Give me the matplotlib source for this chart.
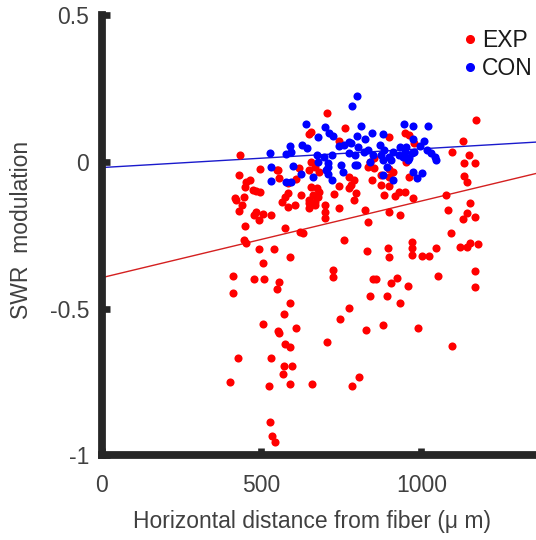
import matplotlib
matplotlib.use("Agg")
import matplotlib.pyplot as plt
from matplotlib.lines import Line2D
import numpy as np

plt.rcParams['font.family'] = ['Liberation Sans', 'DejaVu Sans']
plt.rcParams['axes.unicode_minus'] = False

# EXP group (red)
exp_x = [706, 1172, 762, 656, 647, 950, 962, 741, 978, 1131, 897, 434, 1097, 1150, 853, 838,
         1134, 1166, 656, 666, 494, 553, 647, 616, 834, 853, 900, 912, 431, 463, 556, 609,
         772, 788, 844, 875, 897, 962, 1134, 1141, 447, 475, 494, 584, 656, 672, 741, 772,
         897, 947, 1078, 416, 444, 453, 584, 572, 622, 662, 678, 728, 794, 788, 884, 916,
         975, 931, 438, 563, 584, 647, 647, 666, 697, 697, 741, 1153, 431, 484, 506, 531,
         491, 697, 825, 900, 934, 1084, 1141, 1131, 1166, 834, 450, 572, 619, 631, 1091, 444,
         453, 759, 969, 969, 969, 1153, 491, 538, 831, 894, 897, 1003, 1025, 1047, 1119, 1141,
         1178, 588, 506, 722, 725, 412, 478, 509, 850, 859, 922, 906, 1053, 1166, 556, 547,
         959, 1166, 412, 838, 891, 588, 934, 569, 775, 744, 506, 553, 556, 609, 828, 881,
         988, 706, 575, 588, 1097, 428, 531, 569, 594, 566, 806, 403, 525, 588, 659, 784,
         528, 534, 541, 547, 484, 419, 647, 606, 478, 681, 781, 875, 681, 666, 953]
exp_y = [0.167, 0.143, 0.116, 0.102, 0.095, 0.099, 0.092, 0.071, 0.065, 0.071, 0.085, 0.024,
         0.034, 0.024, 0.014, 0.0, -0.003, -0.003, 0.0, -0.017, -0.024, -0.027, -0.027, -0.020,
         -0.017, -0.020, -0.024, -0.034, -0.044, -0.061, -0.054, -0.058, -0.051, -0.061, -0.061,
         -0.044, -0.051, -0.051, -0.048, -0.068, -0.085, -0.095, -0.102, -0.071, -0.085, -0.088,
         -0.082, -0.088, -0.082, -0.102, -0.112, -0.122, -0.119, -0.068, -0.105, -0.119, -0.112,
         -0.112, -0.119, -0.109, -0.105, -0.129, -0.112, -0.116, -0.122, -0.102, -0.146, -0.136,
         -0.153, -0.139, -0.156, -0.146, -0.146, -0.170, -0.156, -0.139, -0.167, -0.170, -0.177,
         -0.180, -0.197, -0.190, -0.163, -0.170, -0.180, -0.163, -0.173, -0.194, -0.187, -0.204,
         -0.218, -0.224, -0.238, -0.241, -0.241, -0.265, -0.276, -0.265, -0.272, -0.293, -0.316,
         -0.276, -0.296, -0.296, -0.303, -0.293, -0.323, -0.320, -0.320, -0.293, -0.289, -0.289,
         -0.279, -0.323, -0.344, -0.367, -0.391, -0.388, -0.398, -0.398, -0.398, -0.401, -0.395,
         -0.412, -0.388, -0.371, -0.408, -0.432, -0.422, -0.425, -0.446, -0.456, -0.456, -0.480,
         -0.480, -0.520, -0.497, -0.537, -0.554, -0.578, -0.585, -0.565, -0.575, -0.558, -0.568,
         -0.616, -0.622, -0.633, -0.629, -0.670, -0.670, -0.697, -0.697, -0.724, -0.735, -0.752,
         -0.765, -0.759, -0.759, -0.765, -0.888, -0.935, -0.956, -0.027, -0.099, -0.129, -0.129,
         -0.146, -0.180, -0.034, -0.078, -0.078, -0.102, -0.136, 0.0]

# CON group (blue)
con_x = [797, 784, 638, 697, 812, 944, 972, 1019, 678, 712, 722, 797, 844, 881, 822, 972,
         1009, 588, 628, 641, 772, 741, 759, 781, 803, 834, 869, 884, 912, 934, 994, 953,
         1016, 1031, 528, 578, 591, 672, 694, 719, 772, 791, 819, 850, 875, 900, 931, 947,
         969, 1041, 1047, 962, 941, 978, 678, 709, 750, 791, 838, 881, 906, 959, 531, 597,
         709, 797, 891, 703, 756, 709, 625, 972, 1003, 662, 719, 881, 912, 987, 531, 578, 591]
con_y = [0.224, 0.190, 0.129, 0.119, 0.122, 0.129, 0.122, 0.122, 0.085, 0.099, 0.088, 0.088,
         0.099, 0.095, 0.078, 0.078, 0.071, 0.054, 0.058, 0.048, 0.068, 0.054, 0.058, 0.065,
         0.051, 0.041, 0.058, 0.041, 0.034, 0.051, 0.054, 0.051, 0.041, 0.031, 0.031, 0.027,
         0.034, 0.024, 0.017, 0.024, 0.031, 0.024, 0.034, 0.024, 0.024, 0.017, 0.024, 0.034,
         0.031, 0.017, 0.007, 0.014, 0.017, 0.034, 0.0, -0.003, -0.010, -0.010, 0.0, 0.007,
         0.007, 0.007, -0.017, -0.014, -0.017, -0.010, -0.017, -0.027, -0.034, -0.041, -0.041,
         -0.034, -0.037, -0.051, -0.061, -0.044, -0.061, -0.054, -0.065, -0.068, -0.068]

# linear fits (intercept, slope)
exp_fit = [-0.395, 2.62e-4]
con_fit = [-0.019, 6.4e-5]

x_ticks = [0, 500, 1000]
y_ticks = [-1, -0.5, 0, 0.5]
y_tick_labels = ['-1', '-0.5', '0', '0.5']

text_col = '#404040'
axis_col = '#262626'
fs = 16.5

fig = plt.figure(figsize=(5.36, 5.40), dpi=100)
ax = fig.add_axes([0.1894, 0.1574, 0.8106, 0.8139])

xline = np.array([0, 1358])
ax.plot(xline, exp_fit[0] + exp_fit[1] * xline, color='#d42020', lw=1.0, zorder=1)
ax.plot(xline, con_fit[0] + con_fit[1] * xline, color='#1a1acc', lw=1.0, zorder=1)

ax.scatter(exp_x, exp_y, s=34, color='#ff0000', linewidths=0, zorder=2)
ax.scatter(con_x, con_y, s=34, color='#0000ff', linewidths=0, zorder=3)

ax.set_xlim(0, 1358)
ax.set_ylim(-1, 0.5)
ax.set_xticks(x_ticks)
ax.set_yticks(y_ticks)
ax.set_yticklabels(y_tick_labels)

for side in ['top', 'right']:
    ax.spines[side].set_visible(False)
for side in ['left', 'bottom']:
    ax.spines[side].set_linewidth(5.6)
    ax.spines[side].set_color(axis_col)

ax.tick_params(direction='in', length=5.4, width=4.8, color=axis_col,
               labelsize=fs, labelcolor=text_col)
ax.tick_params(axis='x', pad=13.5)
ax.tick_params(axis='y', pad=9)

ax.set_xlabel('Horizontal distance from fiber (\u03bc m)', fontsize=fs, color=text_col)
ax.set_ylabel('SWR  modulation', fontsize=fs, color=text_col)
ax.xaxis.set_label_coords(0.484, -0.125)
ax.yaxis.set_label_coords(-0.157, 0.512)

handles = [Line2D([], [], marker='o', ls='', color='#ff0000', markersize=5.5, label='EXP'),
           Line2D([], [], marker='o', ls='', color='#0000ff', markersize=5.5, label='CON')]
leg = ax.legend(handles=handles, loc='upper right', bbox_to_anchor=(1.013, 0.99),
                frameon=False, fontsize=fs, handlelength=0.6, handletextpad=0.2,
                labelspacing=0.2, borderaxespad=0.0)
for t in leg.get_texts():
    t.set_color('#1a1a1a')

fig.savefig('out.png', dpi=100)
